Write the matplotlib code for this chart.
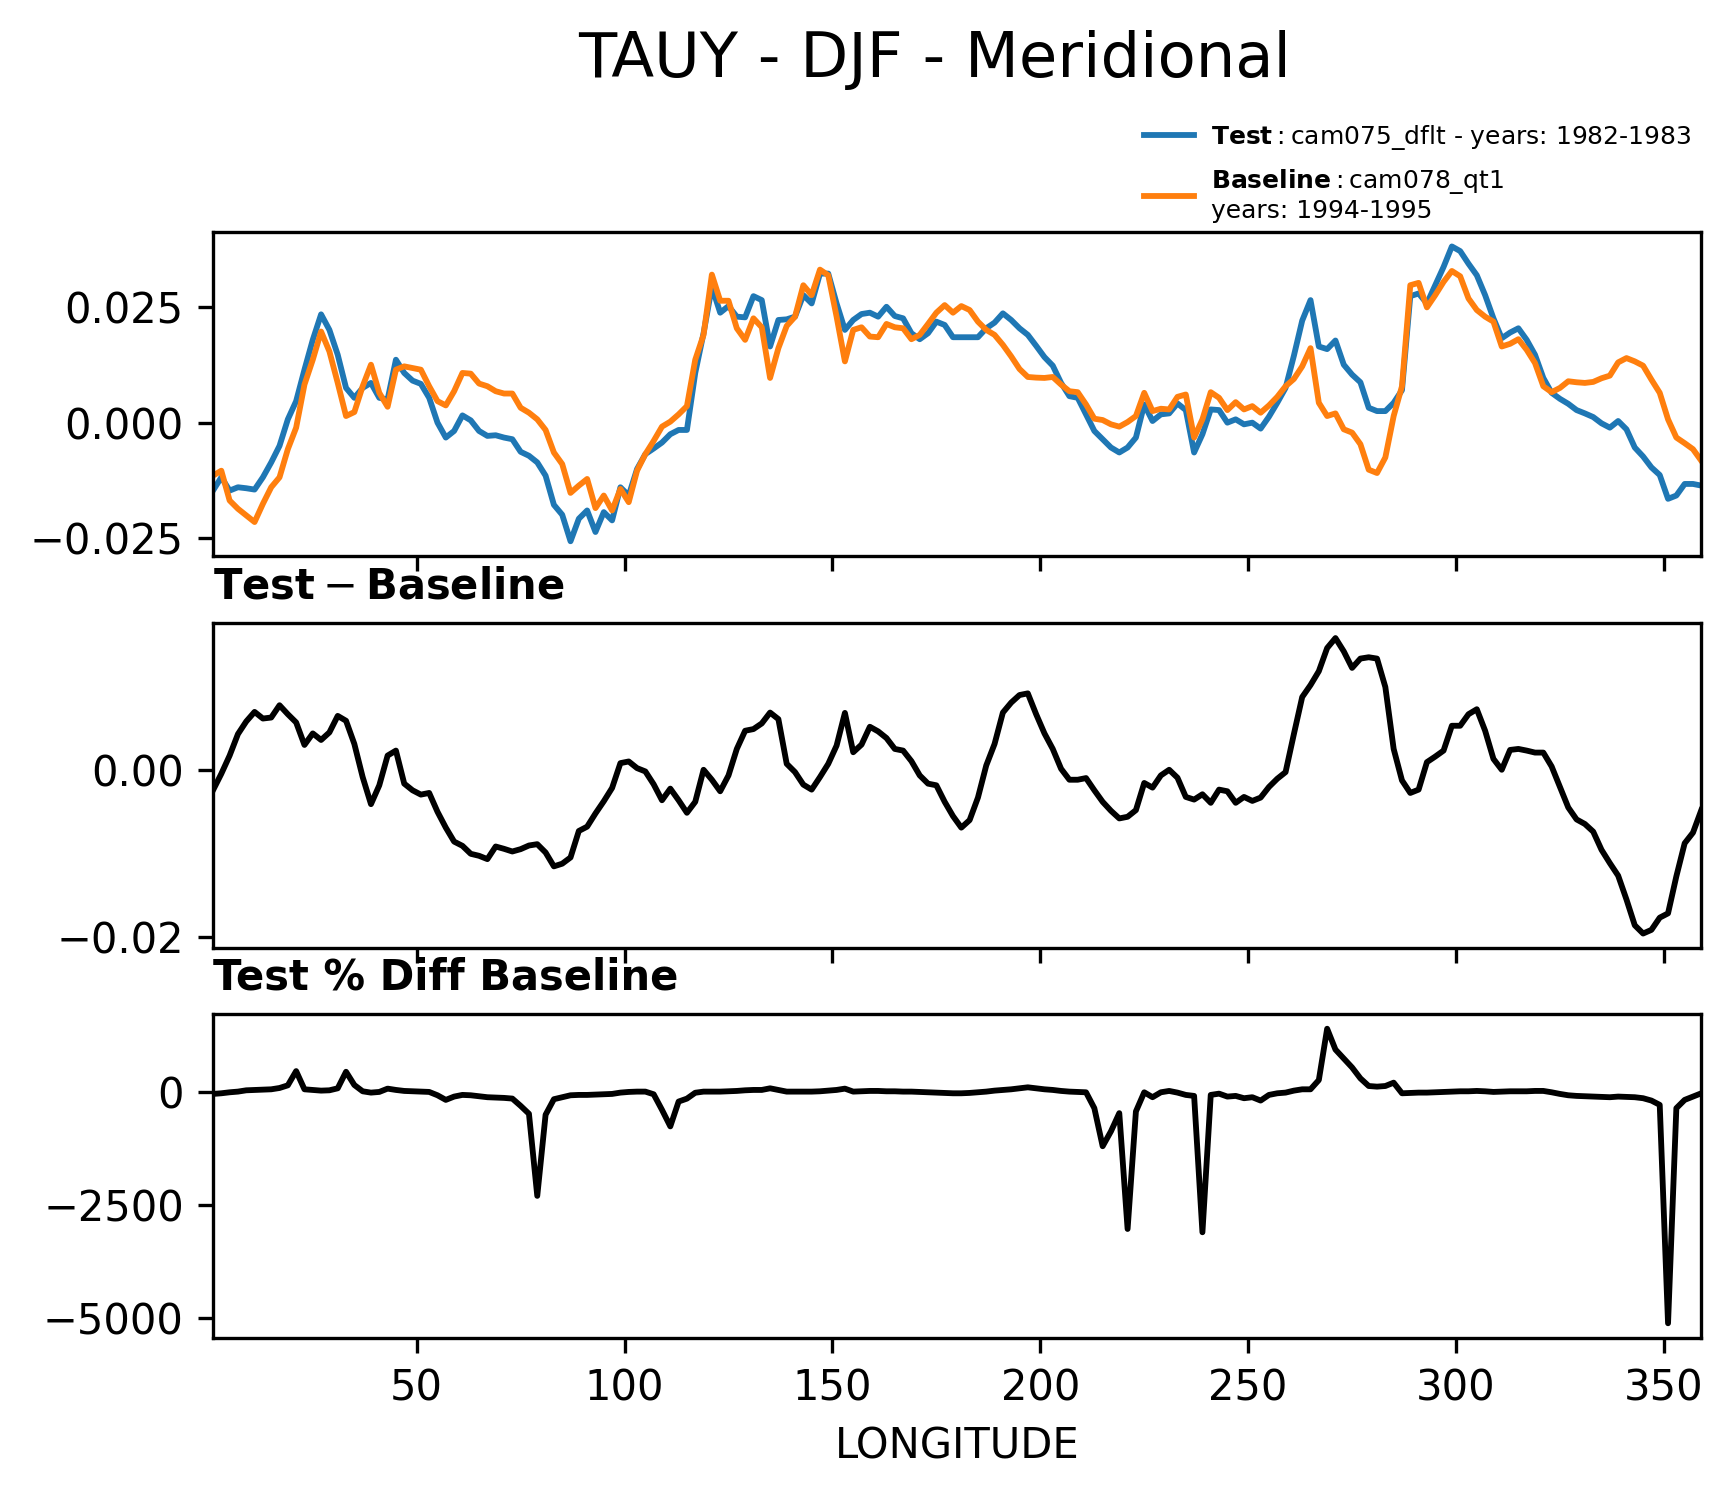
import numpy as np
import matplotlib
matplotlib.use("Agg")
import matplotlib.pyplot as plt
from matplotlib.lines import Line2D

# ---------------- data ----------------
lon = np.arange(1, 360, 2)  # 1, 3, ..., 359 degrees east

test_vals = [
    -0.01473, -0.01185, -0.01473, -0.01401, -0.01422, -0.01451, -0.01185, -0.00862, -0.00503, 0.00072,
    0.00467, 0.01149, 0.01796, 0.02349, 0.02012, 0.01473, 0.00754, 0.00539, 0.00754, 0.00862,
    0.00539, 0.00503, 0.01365, 0.01078, 0.00912, 0.00841, 0.00539, 0.00000, -0.00323, -0.00180,
    0.00158, 0.00050, -0.00180, -0.00287, -0.00273, -0.00323, -0.00359, -0.00632, -0.00718, -0.00862,
    -0.01149, -0.01782, -0.01997, -0.02572, -0.02083, -0.01904, -0.02371, -0.01940, -0.02119, -0.01401,
    -0.01580, -0.01006, -0.00682, -0.00560, -0.00431, -0.00251, -0.00158, -0.00158, 0.01078, 0.01940,
    0.02945, 0.02385, 0.02529, 0.02299, 0.02284, 0.02744, 0.02658, 0.01652, 0.02227, 0.02241,
    0.02299, 0.02766, 0.02586, 0.03233, 0.03233, 0.02586, 0.02012, 0.02227, 0.02356, 0.02385,
    0.02299, 0.02514, 0.02313, 0.02263, 0.01940, 0.01810, 0.01940, 0.02191, 0.02119, 0.01853,
    0.01853, 0.01853, 0.01853, 0.02047, 0.02170, 0.02371, 0.02227, 0.02047, 0.01904, 0.01667,
    0.01422, 0.01236, 0.00862, 0.00575, 0.00539, 0.00180, -0.00180, -0.00359, -0.00539, -0.00647,
    -0.00539, -0.00323, 0.00395, 0.00036, 0.00180, 0.00201, 0.00417, 0.00273, -0.00647, -0.00251,
    0.00287, 0.00273, 0.00000, 0.00072, -0.00036, 0.00000, -0.00129, 0.00129, 0.00431, 0.00754,
    0.01451, 0.02213, 0.02658, 0.01652, 0.01595, 0.01782, 0.01257, 0.01042, 0.00876, 0.00323,
    0.00251, 0.00251, 0.00431, 0.00704, 0.02744, 0.02802, 0.02586, 0.02981, 0.03377, 0.03822,
    0.03721, 0.03448, 0.03197, 0.02766, 0.02263, 0.01832, 0.01954, 0.02047, 0.01796, 0.01473,
    0.00970, 0.00647, 0.00517, 0.00409, 0.00273, 0.00201, 0.00122, -0.00014, -0.00108, 0.00036,
    -0.00144, -0.00539, -0.00733, -0.00970, -0.01135, -0.01652, -0.01580, -0.01329, -0.01329, -0.01365,
]

baseline_vals = [
    -0.01149, -0.01042, -0.01688, -0.01868, -0.02012, -0.02155, -0.01760, -0.01401, -0.01185, -0.00575,
    -0.00108, 0.00826, 0.01365, 0.01976, 0.01545, 0.00862, 0.00144, 0.00230, 0.00790, 0.01257,
    0.00647, 0.00345, 0.01149, 0.01221, 0.01185, 0.01149, 0.00790, 0.00467, 0.00374, 0.00682,
    0.01078, 0.01063, 0.00848, 0.00790, 0.00682, 0.00632, 0.00632, 0.00323, 0.00216, 0.00072,
    -0.00158, -0.00647, -0.00898, -0.01523, -0.01365, -0.01221, -0.01853, -0.01580, -0.01904, -0.01437,
    -0.01724, -0.01042, -0.00682, -0.00395, -0.00086, 0.00022, 0.00180, 0.00359, 0.01365, 0.01904,
    0.03211, 0.02644, 0.02644, 0.02047, 0.01796, 0.02263, 0.02069, 0.00970, 0.01616, 0.02098,
    0.02299, 0.02981, 0.02766, 0.03319, 0.03197, 0.02299, 0.01329, 0.02012, 0.02069, 0.01868,
    0.01853, 0.02141, 0.02069, 0.02047, 0.01810, 0.01904, 0.02141, 0.02385, 0.02550, 0.02385,
    0.02529, 0.02443, 0.02191, 0.02012, 0.01904, 0.01688, 0.01437, 0.01164, 0.00991, 0.00977,
    0.00970, 0.00991, 0.00826, 0.00682, 0.00661, 0.00395, 0.00086, 0.00057, -0.00036, -0.00086,
    0.00014, 0.00144, 0.00647, 0.00251, 0.00302, 0.00287, 0.00560, 0.00611, -0.00323, 0.00072,
    0.00661, 0.00539, 0.00273, 0.00445, 0.00287, 0.00359, 0.00216, 0.00374, 0.00560, 0.00790,
    0.00948, 0.01221, 0.01616, 0.00431, 0.00144, 0.00201, -0.00144, -0.00216, -0.00467, -0.01020,
    -0.01092, -0.00754, 0.00144, 0.00790, 0.02981, 0.03032, 0.02500, 0.02766, 0.03053, 0.03290,
    0.03175, 0.02694, 0.02443, 0.02299, 0.02191, 0.01652, 0.01710, 0.01810, 0.01580, 0.01293,
    0.00790, 0.00661, 0.00754, 0.00898, 0.00876, 0.00862, 0.00884, 0.00963, 0.01020, 0.01307,
    0.01401, 0.01329, 0.01236, 0.00934, 0.00647, 0.00072, -0.00323, -0.00445, -0.00575, -0.00826,
]

diff_vals = [
    -0.00239, -0.00040, 0.00179, 0.00438, 0.00590, 0.00705, 0.00625, 0.00637, 0.00785, 0.00677,
    0.00578, 0.00307, 0.00446, 0.00367, 0.00458, 0.00657, 0.00598, 0.00319, -0.00080, -0.00406,
    -0.00179, 0.00179, 0.00239, -0.00159, -0.00239, -0.00291, -0.00271, -0.00498, -0.00689, -0.00857,
    -0.00908, -0.01004, -0.01028, -0.01068, -0.00916, -0.00944, -0.00976, -0.00948, -0.00904, -0.00888,
    -0.00988, -0.01155, -0.01123, -0.01048, -0.00729, -0.00677, -0.00518, -0.00371, -0.00211, 0.00088,
    0.00108, 0.00028, -0.00012, -0.00167, -0.00359, -0.00219, -0.00359, -0.00510, -0.00378, 0.00008,
    -0.00112, -0.00251, -0.00060, 0.00259, 0.00478, 0.00498, 0.00566, 0.00697, 0.00618, 0.00080,
    -0.00020, -0.00171, -0.00231, -0.00080, 0.00080, 0.00299, 0.00693, 0.00219, 0.00311, 0.00526,
    0.00470, 0.00390, 0.00259, 0.00239, 0.00112, -0.00060, -0.00159, -0.00179, -0.00378, -0.00550,
    -0.00689, -0.00598, -0.00327, 0.00060, 0.00319, 0.00697, 0.00817, 0.00908, 0.00928, 0.00677,
    0.00446, 0.00259, 0.00020, -0.00112, -0.00112, -0.00092, -0.00239, -0.00378, -0.00486, -0.00578,
    -0.00558, -0.00478, -0.00151, -0.00207, -0.00060, 0.00008, -0.00088, -0.00319, -0.00351, -0.00287,
    -0.00390, -0.00231, -0.00251, -0.00390, -0.00319, -0.00367, -0.00327, -0.00199, -0.00100, -0.00020,
    0.00438, 0.00884, 0.01028, 0.01195, 0.01474, 0.01594, 0.01434, 0.01235, 0.01347, 0.01363,
    0.01347, 0.01004, 0.00259, -0.00120, -0.00271, -0.00231, 0.00100, 0.00167, 0.00239, 0.00538,
    0.00538, 0.00677, 0.00737, 0.00478, 0.00139, 0.00008, 0.00247, 0.00259, 0.00239, 0.00215,
    0.00215, 0.00048, -0.00199, -0.00446, -0.00590, -0.00645, -0.00737, -0.00956, -0.01116, -0.01267,
    -0.01554, -0.01865, -0.01964, -0.01920, -0.01773, -0.01721, -0.01275, -0.00877, -0.00749, -0.00478,
]

pct_vals = [
    -51, -37, -15, 0, 29, 37, 44, 51, 80, 139,
    454, 51, 37, 22, 29, 73, 439, 146, 7, -22,
    -7, 66, 37, 15, 7, 0, -7, -81, -183, -110,
    -73, -81, -102, -124, -132, -139, -154, -315, -490, -2306,
    -512, -168, -124, -81, -73, -73, -66, -59, -51, -22,
    -7, 0, 0, -59, -403, -769, -220, -155, -25, 0,
    0, 0, 7, 15, 29, 37, 37, 73, 37, 0,
    0, 0, 0, 7, 22, 37, 66, 0, 7, 15,
    15, 7, 7, 0, 0, -7, -15, -22, -29, -37,
    -37, -29, -15, 0, 22, 37, 51, 73, 95, 73,
    51, 37, 15, 0, -7, -15, -366, -1208, -878, -476,
    -3038, -439, -15, -124, -15, 15, -22, -73, -95, -3111,
    -73, -45, -110, -95, -146, -124, -198, -73, -37, -22,
    22, 51, 51, 256, 1391, 930, 732, 534, 293, 124,
    110, 124, 198, -37, -29, -22, -22, -15, -7, 0,
    7, 7, 15, 7, -7, 0, 7, 7, 7, 15,
    15, -15, -51, -81, -95, -102, -110, -117, -124, -110,
    -117, -124, -146, -198, -293, -5124, -366, -183, -110, -37,
]

title = "TAUY - DJF - Meridional"
test_label = "$\\mathbf{Test}:$cam075_dflt - years: 1982-1983"
base_label = "$\\mathbf{Baseline}:$cam078_qt1\nyears: 1994-1995"
xlabel = "LONGITUDE"
top_ticks = [-0.025, 0.0, 0.025]
mid_ticks = [-0.02, 0.0]
bot_ticks = [-5000, -2500, 0]
x_ticks = [50, 100, 150, 200, 250, 300, 350]

# ---------------- figure ----------------
W, H = 1733, 1496
fig = plt.figure(figsize=(W / 300, H / 300), dpi=300)

left = 213 / W
width = (1701.3 - 213) / W
ax1 = fig.add_axes([left, 1 - 556 / H, width, 324.3 / H])
ax2 = fig.add_axes([left, 1 - 948.3 / H, width, 325.0 / H], sharex=ax1)
ax3 = fig.add_axes([left, 1 - 1338 / H, width, 324.0 / H], sharex=ax1)

c_test = "#1f77b4"
c_base = "#ff7f0e"
lw = 1.4

ax1.plot(lon, test_vals, color=c_test, lw=lw)
ax1.plot(lon, baseline_vals, color=c_base, lw=lw)
ax2.plot(lon, diff_vals, color="k", lw=lw)
ax3.plot(lon, pct_vals, color="k", lw=lw)

ax1.set_xlim(lon[0], lon[-1])
ax1.set_xticks(x_ticks)
ax1.set_yticks(top_ticks)
ax2.set_yticks(mid_ticks)
ax3.set_yticks(bot_ticks)

for ax in (ax1, ax2):
    ax.tick_params(labelbottom=False)

ax2.set_title("$\\mathbf{Test} - \\mathbf{Baseline}$", loc="left", fontsize=10)
ax3.set_title("Test % Diff Baseline", loc="left", fontsize=10, fontweight="bold")
ax3.set_xlabel(xlabel, fontsize=10)

fig.text(0.539, 1 - 77 / H, title, ha="center", va="baseline", fontsize=15)

handles = [Line2D([], [], color=c_test, lw=lw), Line2D([], [], color=c_base, lw=lw)]
fig.legend(handles, [test_label, base_label], loc="upper right",
           bbox_to_anchor=(0.989, 1 - 100 / H), fontsize=6, frameon=False,
           labelspacing=0.6, handletextpad=0.7)

fig.savefig("out.png", dpi=300)
